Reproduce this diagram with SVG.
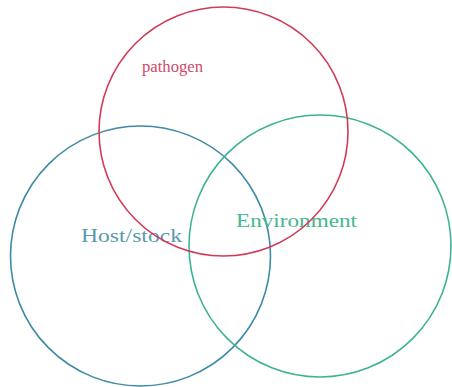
<svg xmlns="http://www.w3.org/2000/svg" width="452" height="387" viewBox="0 0 452 387">
<style>
.c{fill:none;stroke-width:1.6}
.t{font-family:"Liberation Serif","DejaVu Serif",serif;font-size:19px}
</style>
<rect width="452" height="387" fill="#ffffff"/>
<g id="host">
<circle class="c" cx="140.5" cy="256" r="130" stroke="#3f8aa6"/>
<text class="t" x="81" y="242" fill="#5a9aae" textLength="101" lengthAdjust="spacingAndGlyphs">Host/stock</text>
</g>
<g id="environment">
<circle class="c" cx="320" cy="246" r="131" stroke="#3db395"/>
<text class="t" x="236" y="227" fill="#45b890" textLength="121" lengthAdjust="spacingAndGlyphs">Environment</text>
</g>
<g id="pathogen">
<circle class="c" cx="223.5" cy="131.5" r="124.5" stroke="#d23a55"/>
<text class="t" x="142" y="72" fill="#cf4a68" style="font-size:17.5px" textLength="61" lengthAdjust="spacingAndGlyphs">pathogen</text>
</g>
<g id="connectors"/>
</svg>
